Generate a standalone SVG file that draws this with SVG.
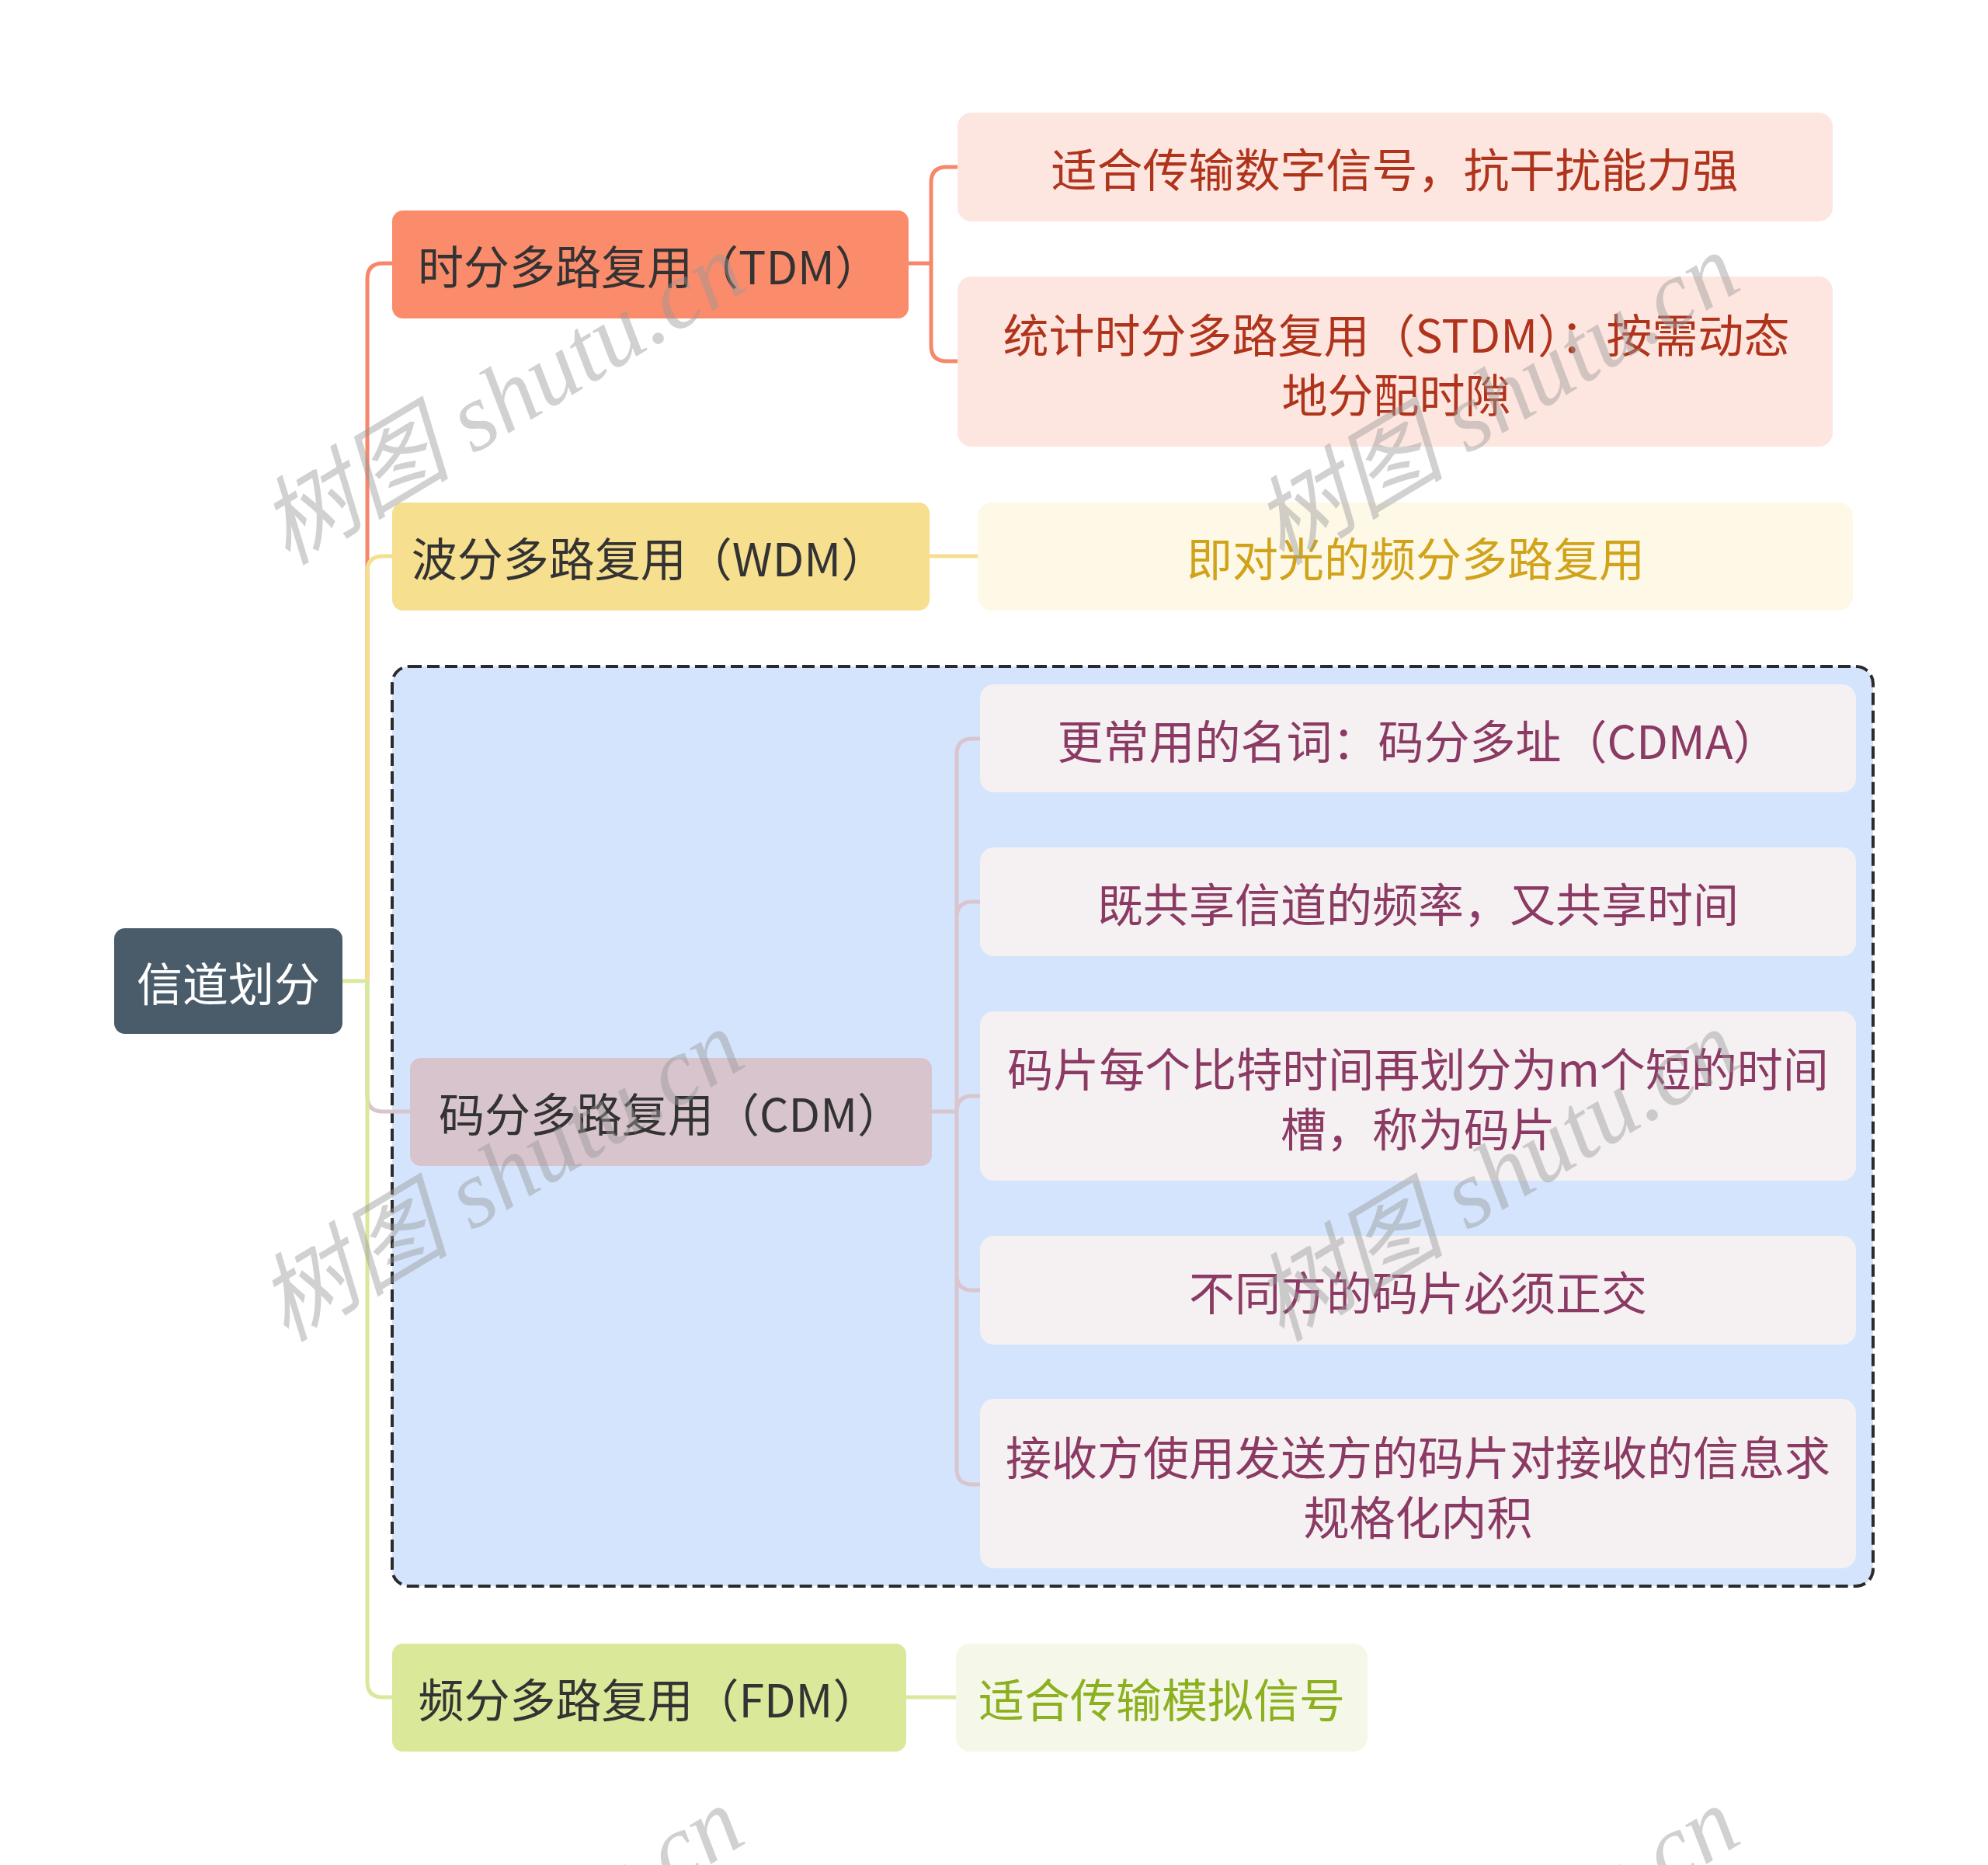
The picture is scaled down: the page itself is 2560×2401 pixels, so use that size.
<svg xmlns="http://www.w3.org/2000/svg" width="2560" height="2401" viewBox="0 0 2560 2401">
<style>
text{font-family:"Noto Sans CJK SC","Noto Sans",sans-serif;font-size:59px;text-anchor:middle;dominant-baseline:central}
.c{fill:none;stroke-width:5;stroke-linecap:round}
.tdm{stroke:#F6876A}.wdm{stroke:#F5DF8E}.cdm{stroke:#D9C6CD}.fdm{stroke:#D9E89B}
.wm{font-family:"Liberation Serif","Noto Sans CJK SC",serif;font-style:italic;font-size:124px;fill:#9a9a9a;fill-opacity:0.45}
</style>
<rect width="2560" height="2401" fill="#FFFFFF"/>
<g id="cdm-boundary">
<rect x="505" y="858" width="1907" height="1184" rx="22" fill="#D4E4FC" stroke="#2B2B2B" stroke-width="4" stroke-dasharray="16 7"/>
</g>
<g id="connectors">
<path class="c tdm" d="M473,1263 V359 Q473,339 493,339 H506"/>
<path class="c wdm" d="M473,1263 V736 Q473,716 493,716 H506"/>
<path class="c cdm" d="M473,1263 V1411 Q473,1431 493,1431 H529"/>
<path class="c fdm" d="M473,1263 V2165 Q473,2185 493,2185 H506"/>
<path class="c fdm" d="M441,1263 H473"/>
<path class="c tdm" d="M1170,339 H1199 M1199,339 V235 Q1199,215 1219,215 H1234 M1199,339 V445 Q1199,465 1219,465 H1234"/>
<path class="c wdm" d="M1197,716 H1260"/>
<path class="c cdm" d="M1200,1431 H1232 M1232,1431 V971 Q1232,951 1252,951 H1263 M1232,1431 V1181 Q1232,1161 1252,1161 H1263 M1232,1431 Q1232,1411 1252,1411 H1263 M1232,1431 V1641 Q1232,1661 1252,1661 H1263 M1232,1431 V1891 Q1232,1911 1252,1911 H1263"/>
<path class="c fdm" d="M1167,2185 H1232"/>
</g>
<g id="root">
<rect x="147" y="1195" width="294" height="136" rx="14" fill="#4A5C6A"/>
<text x="294" y="1263" fill="#FFFFFF">信道划分</text>
</g>
<g id="tdm">
<rect x="505" y="271" width="665" height="139" rx="14" fill="#FA8B6B"/>
<text x="836" y="340" fill="#333333">时分多路复用（TDM）</text>
</g>
<g id="tdm-1">
<rect x="1233" y="145" width="1127" height="140" rx="18" fill="#FDE6E0"/>
<text x="1796" y="215" fill="#B0341C">适合传输数字信号，抗干扰能力强</text>
</g>
<g id="tdm-2">
<rect x="1233" y="356" width="1127" height="219" rx="18" fill="#FDE6E0"/>
<text x="1798" y="428" fill="#B0341C">统计时分多路复用（STDM）：按需动态</text>
<text x="1798" y="505" fill="#B0341C">地分配时隙</text>
</g>
<g id="wdm">
<rect x="505" y="647" width="692" height="139" rx="14" fill="#F6DF8E"/>
<text x="836" y="716" fill="#333333">波分多路复用（WDM）</text>
</g>
<g id="wdm-1">
<rect x="1259" y="647" width="1127" height="139" rx="18" fill="#FEF9E7"/>
<text x="1823" y="716" fill="#D1A31A">即对光的频分多路复用</text>
</g>
<g id="cdm">
<rect x="528" y="1362" width="672" height="139" rx="14" fill="#D8C4CC"/>
<text x="864" y="1431" fill="#333333">码分多路复用（CDM）</text>
</g>
<g id="cdm-1">
<rect x="1262" y="881" width="1128" height="139" rx="18" fill="#F5F1F3"/>
<text x="1826" y="951" fill="#8B3A63">更常用的名词：码分多址（CDMA）</text>
</g>
<g id="cdm-2">
<rect x="1262" y="1091" width="1128" height="140" rx="18" fill="#F5F1F3"/>
<text x="1826" y="1161" fill="#8B3A63">既共享信道的频率，又共享时间</text>
</g>
<g id="cdm-3">
<rect x="1262" y="1302" width="1128" height="218" rx="18" fill="#F5F1F3"/>
<text x="1826" y="1373" fill="#8B3A63">码片每个比特时间再划分为m个短的时间</text>
<text x="1826" y="1450" fill="#8B3A63">槽，称为码片</text>
</g>
<g id="cdm-4">
<rect x="1262" y="1591" width="1128" height="140" rx="18" fill="#F5F1F3"/>
<text x="1826" y="1661" fill="#8B3A63">不同方的码片必须正交</text>
</g>
<g id="cdm-5">
<rect x="1262" y="1801" width="1128" height="218" rx="18" fill="#F5F1F3"/>
<text x="1826" y="1873" fill="#8B3A63">接收方使用发送方的码片对接收的信息求</text>
<text x="1826" y="1950" fill="#8B3A63">规格化内积</text>
</g>
<g id="fdm">
<rect x="505" y="2116" width="662" height="139" rx="14" fill="#DAE89A"/>
<text x="835" y="2185" fill="#333333">频分多路复用（FDM）</text>
</g>
<g id="fdm-1">
<rect x="1231" y="2116" width="530" height="139" rx="18" fill="#F5F8E8"/>
<text x="1496" y="2185" fill="#8CB020">适合传输模拟信号</text>
</g>
<g id="watermarks">
<text class="wm" x="647" y="514" transform="rotate(-31 647 514)">树图 shutu.cn</text>
<text class="wm" x="1927" y="514" transform="rotate(-31 1927 514)">树图 shutu.cn</text>
<text class="wm" x="645" y="1514" transform="rotate(-31 645 1514)">树图 shutu.cn</text>
<text class="wm" x="1927" y="1514" transform="rotate(-31 1927 1514)">树图 shutu.cn</text>
<text class="wm" x="645" y="2514" transform="rotate(-31 645 2514)">树图 shutu.cn</text>
<text class="wm" x="1927" y="2514" transform="rotate(-31 1927 2514)">树图 shutu.cn</text>
</g>
</svg>
